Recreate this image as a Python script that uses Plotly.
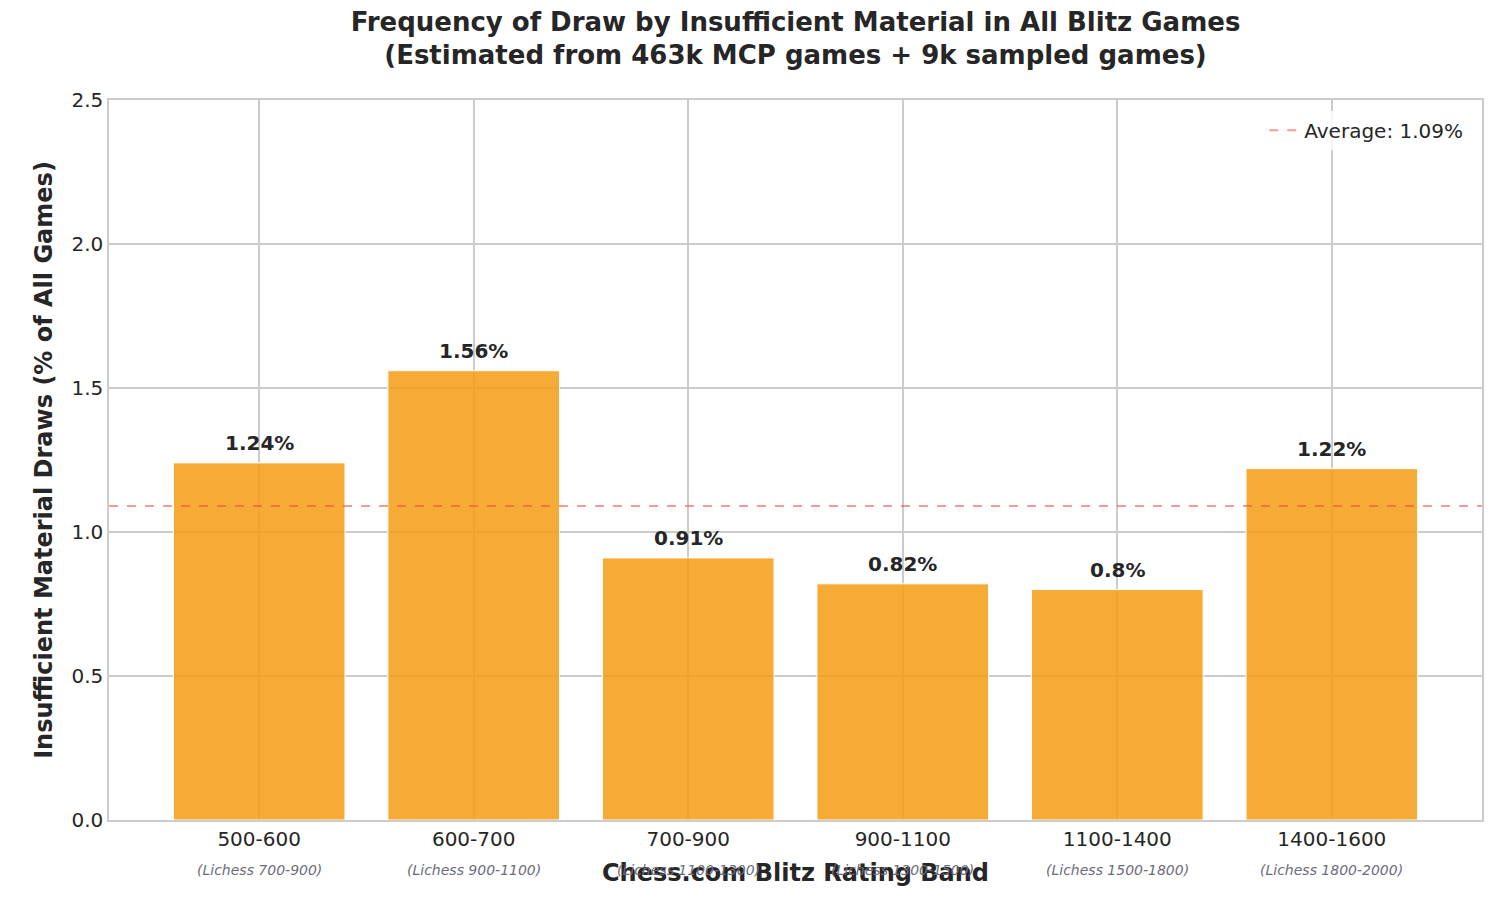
import plotly.graph_objects as go

bands = ["500-600", "600-700", "700-900", "900-1100", "1100-1400", "1400-1600"]
lichess = ["(Lichess 700-900)", "(Lichess 900-1100)", "(Lichess 1100-1300)", "(Lichess 1300-1500)", "(Lichess 1500-1800)", "(Lichess 1800-2000)"]
values = [1.24, 1.56, 0.91, 0.82, 0.80, 1.22]
labels = ["1.24%", "1.56%", "0.91%", "0.82%", "0.8%", "1.22%"]
avg = 1.09

fig = go.Figure()
fig.add_trace(go.Bar(x=list(range(6)), y=values, width=0.8,
                     marker=dict(color="rgba(243,156,18,0.85)", line=dict(color="white", width=1)),
                     showlegend=False, hoverinfo="skip"))
fig.add_trace(go.Scatter(x=[-0.7, 5.7], y=[avg, avg], mode="lines",
                         line=dict(color="rgba(231,76,60,0.55)", dash="dash", width=2),
                         name="Average: 1.09%"))
for i, (v, t) in enumerate(zip(values, labels)):
    fig.add_annotation(x=i, y=v, text="<b>" + t + "</b>", showarrow=False, yanchor="bottom", yshift=6,
                       font=dict(size=20, color="#262626"))
for i, t in enumerate(lichess):
    fig.add_annotation(x=i, y=0, yref="y", yshift=-50, text="<i>" + t + "</i>", showarrow=False,
                       font=dict(size=14, color="#6c6c7a"))

fig.update_layout(
    width=1500, height=900, plot_bgcolor="white", paper_bgcolor="white",
    font=dict(family="DejaVu Sans", color="#262626"),
    margin=dict(l=101, r=26, t=92, b=88),
    title=dict(text="<b>Frequency of Draw by Insufficient Material in All Blitz Games<br>(Estimated from 463k MCP games + 9k sampled games)</b>",
               x=0.525, xanchor="center", y=0.975, yanchor="top", font=dict(size=26, color="#262626")),
    legend=dict(x=0.99, y=0.985, xanchor="right", yanchor="top", font=dict(size=20), bgcolor="rgba(255,255,255,0.8)"),
    xaxis=dict(tickmode="array", tickvals=list(range(6)), ticktext=bands, range=[-0.7, 5.7],
               showgrid=True, gridcolor="#cccccc", gridwidth=1.5, showline=True, linecolor="#cccccc", linewidth=1.5, mirror=True,
               tickfont=dict(size=20), ticks="", title=dict(text="<b>Chess.com Blitz Rating Band</b>", font=dict(size=24), standoff=14)),
    yaxis=dict(range=[0, 2.5], dtick=0.5, tickformat=".1f", showgrid=True, gridcolor="#cccccc", gridwidth=1.5, zeroline=False,
               showline=True, linecolor="#cccccc", linewidth=1.5, mirror=True, tickfont=dict(size=20),
               title=dict(text="<b>Insufficient Material Draws (% of All Games)</b>", font=dict(size=24), standoff=12)),
)
fig.write_html("out.html")
